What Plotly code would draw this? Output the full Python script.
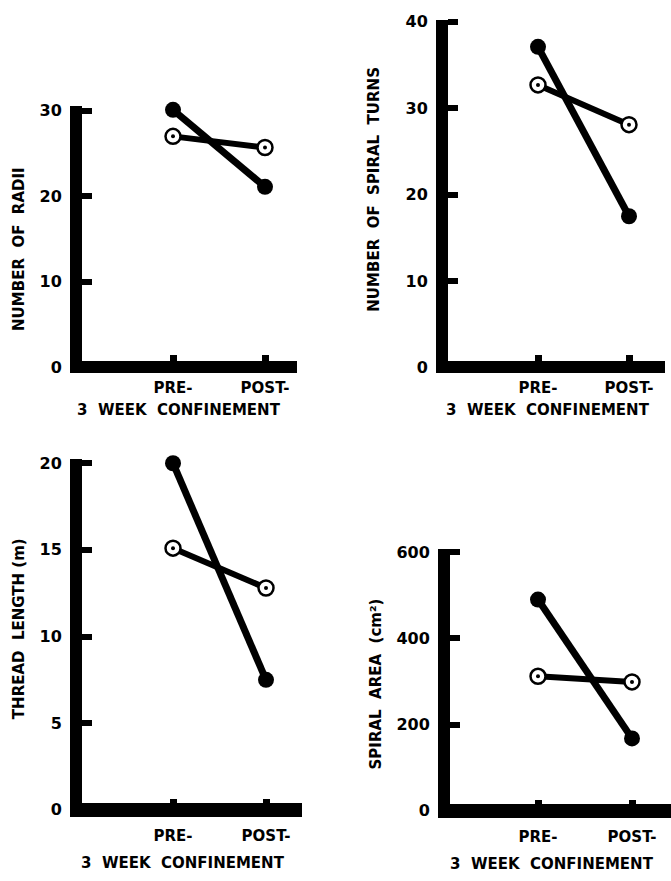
import plotly.graph_objects as go

# ---------------- data ----------------
stages = ["PRE-", "POST-"]
stage_pos = [1, 2]

radii_filled = [30.1, 21.1]
radii_open = [27.0, 25.7]

turns_filled = [37.1, 17.5]
turns_open = [32.7, 28.1]

thread_filled = [20.0, 7.5]
thread_open = [15.1, 12.8]

area_filled = [490, 168]
area_open = [312, 299]

radii_ticks = [0, 10, 20, 30]
turns_ticks = [0, 10, 20, 30, 40]
thread_ticks = [0, 5, 10, 15, 20]
area_ticks = [0, 200, 400, 600]

titles = ["NUMBER  OF  RADII", "NUMBER  OF  SPIRAL  TURNS",
          "THREAD  LENGTH (m)", "SPIRAL  AREA  (cm²)"]
xtitle = "3  WEEK  CONFINEMENT"

# ---------------- layout geometry (pixels) ----------------
W, H = 671, 881
FONT = "DejaVu Sans"

panels = [
    dict(fil=radii_filled, opn=radii_open, ticks=radii_ticks,
         L=82, R=297, T=100, Y0=365, zl=12, ytop=105, pre=173, post=265,
         tt=(19, 245), xt=(179, 408), xlab_off=4),
    dict(fil=turns_filled, opn=turns_open, ticks=turns_ticks,
         L=448, R=665, T=13, Y0=365, zl=12, ytop=15, pre=538, post=629,
         tt=(374, 184), xt=(548, 408), xlab_off=4),
    dict(fil=thread_filled, opn=thread_open, ticks=thread_ticks,
         L=82, R=302, T=458, Y0=813, zl=14, ytop=462, pre=173, post=266,
         tt=(19, 630), xt=(183, 867), xlab_off=8),
    dict(fil=area_filled, opn=area_open, ticks=area_ticks,
         L=450, R=671, T=549, Y0=814, zl=14, ytop=552, pre=538, post=632,
         tt=(376, 686), xt=(552, 868), xlab_off=8),
]

fig = go.Figure()
annotations = []

for i, p in enumerate(panels):
    n = i + 1
    xa = "x" if n == 1 else f"x{n}"
    ya = "y" if n == 1 else f"y{n}"
    B = p["Y0"] + p["zl"] / 2.0
    vtop = p["ticks"][-1]
    sy = (p["Y0"] - p["ytop"]) / vtop          # px per unit
    yr = [-(B - p["Y0"]) / sy, (p["Y0"] - p["T"]) / sy]
    sx = p["post"] - p["pre"]
    xr = [1 - (p["pre"] - p["L"]) / sx, 1 + (p["R"] - p["pre"]) / sx]

    # open-circle series
    fig.add_trace(go.Scatter(
        x=stage_pos, y=p["opn"], xaxis=xa, yaxis=ya, mode="lines+markers",
        line=dict(color="black", width=6),
        marker=dict(symbol="circle", size=15, color="white",
                    line=dict(color="black", width=2.5)),
        showlegend=False, cliponaxis=False))
    fig.add_trace(go.Scatter(
        x=stage_pos, y=p["opn"], xaxis=xa, yaxis=ya, mode="markers",
        marker=dict(symbol="circle", size=4, color="black"),
        showlegend=False, cliponaxis=False, hoverinfo="skip"))
    # filled-circle series
    fig.add_trace(go.Scatter(
        x=stage_pos, y=p["fil"], xaxis=xa, yaxis=ya, mode="lines+markers",
        line=dict(color="black", width=7),
        marker=dict(symbol="circle", size=16, color="black"),
        showlegend=False, cliponaxis=False))

    xkey = "xaxis" if n == 1 else f"xaxis{n}"
    ykey = "yaxis" if n == 1 else f"yaxis{n}"
    fig.layout[xkey] = dict(
        domain=[p["L"] / W, min(p["R"] / W, 1.0)], anchor=ya, range=xr,
        tickvals=stage_pos, ticktext=stages, ticks="inside", ticklen=18,
        tickwidth=7, tickcolor="black", showgrid=False, zeroline=False,
        showline=False, ticklabelstandoff=p["xlab_off"],
        tickfont=dict(family=FONT, size=15, color="black", weight="bold"))
    fig.layout[ykey] = dict(
        domain=[1 - B / H, 1 - p["T"] / H], anchor=xa, range=yr,
        tickvals=p["ticks"], ticks="inside", ticklen=10, tickwidth=6,
        tickcolor="black", showgrid=False, zeroline=True,
        zerolinecolor="black", zerolinewidth=p["zl"], showline=True,
        linecolor="black", linewidth=12, ticklabelstandoff=5,
        tickfont=dict(family=FONT, size=16, color="black", weight="bold"))

    annotations.append(dict(
        text=titles[i], x=p["tt"][0] / W, y=1 - p["tt"][1] / H,
        xref="paper", yref="paper", textangle=-90, showarrow=False,
        xanchor="center", yanchor="middle",
        font=dict(family=FONT, size=15, color="black", weight="bold")))
    annotations.append(dict(
        text=xtitle, x=p["xt"][0] / W, y=1 - p["xt"][1] / H,
        xref="paper", yref="paper", showarrow=False,
        xanchor="center", yanchor="middle",
        font=dict(family=FONT, size=15, color="black", weight="bold")))

fig.update_layout(
    width=W, height=H, margin=dict(l=0, r=0, t=0, b=0),
    paper_bgcolor="white", plot_bgcolor="white",
    annotations=annotations, showlegend=False)

fig.write_html("out.html")
